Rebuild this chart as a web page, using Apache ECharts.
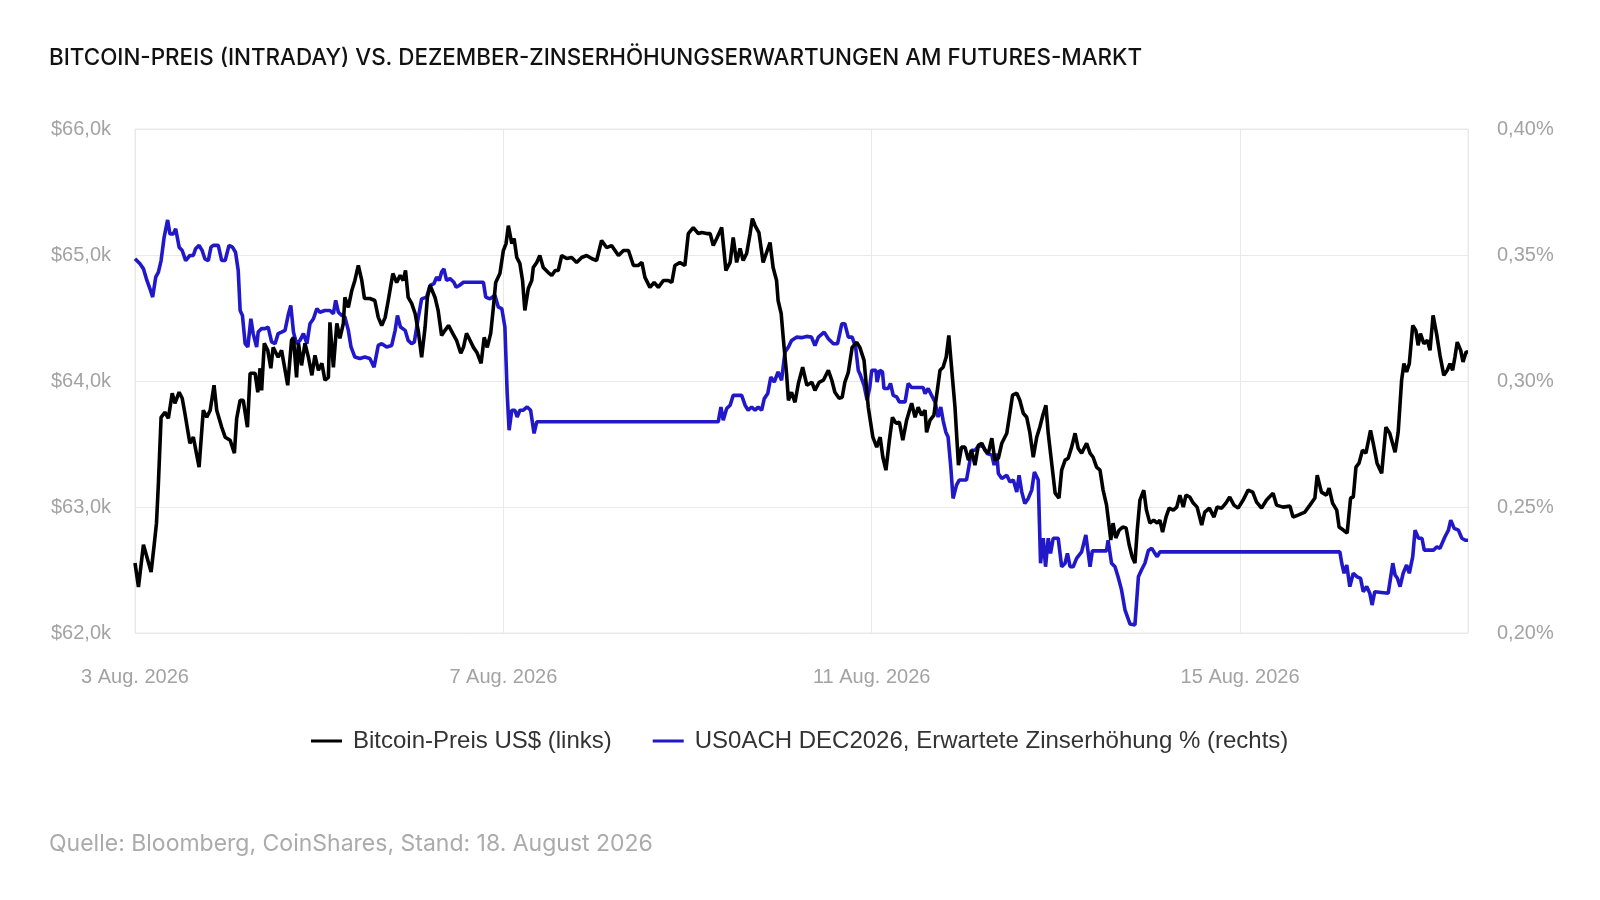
<!DOCTYPE html>
<html>
<head>
<meta charset="utf-8">
<title>Bitcoin-Preis vs. Zinserhöhungserwartungen</title>
<script src="https://cdn.jsdelivr.net/npm/echarts@6/dist/echarts.min.js"></script>
<style>
  html, body { margin: 0; padding: 0; background: #fff; }
  #chart { width: 1600px; height: 900px; }
</style>
</head>
<body>
<div id="chart"></div>
<script>
// Stunden ab 3. Aug. 2026 00:00
var btcHours = [0, 0.9, 2.2, 3.1, 4.2, 5.0, 5.6, 6.1, 6.8, 7.8, 8.7, 9.7, 10.4, 11.5, 12.3, 13.0, 14.3, 15.2, 16.7, 17.8, 18.7, 19.6, 20.6, 21.3, 22.6, 23.5, 24.8, 25.9, 26.5, 27.4, 28.2, 29.3, 30.0, 31.3, 32.0, 32.6, 33.0, 33.7, 34.6, 35.4, 36.0, 37.3, 38.2, 39.8, 40.8, 41.3, 42.1, 42.6, 43.4, 44.3, 45.2, 46.1, 46.9, 47.8, 48.7, 49.5, 50.4, 50.8, 51.7, 52.6, 53.4, 54.3, 54.7, 55.6, 56.5, 57.3, 58.2, 59.1, 59.8, 61.2, 62.5, 63.4, 64.3, 65.2, 66.0, 67.2, 68.2, 69.1, 69.9, 70.5, 71.2, 72.1, 73.0, 73.8, 74.7, 75.6, 76.2, 76.9, 78.2, 79.0, 79.9, 80.8, 81.7, 82.8, 83.8, 84.9, 85.6, 86.4, 87.3, 88.2, 89.1, 90.2, 91.0, 91.8, 92.7, 93.4, 94.0, 95.1, 96.0, 96.7, 97.3, 98.2, 98.8, 99.5, 100.3, 101.0, 101.6, 102.5, 103.4, 103.8, 104.7, 105.5, 106.4, 107.7, 108.6, 109.5, 110.3, 111.2, 112.5, 113.8, 115.1, 116.4, 117.7, 119.0, 120.3, 121.6, 122.9, 124.2, 126.0, 127.3, 128.6, 129.9, 131.2, 132.1, 132.9, 134.2, 135.3, 136.4, 137.7, 139.0, 139.9, 140.7, 142.0, 143.3, 144.2, 145.5, 146.8, 147.7, 149.0, 149.9, 150.7, 151.6, 152.9, 154.0, 155.1, 155.9, 156.8, 157.7, 158.5, 159.4, 160.3, 160.9, 161.6, 162.6, 163.7, 164.6, 165.5, 166.3, 167.2, 167.6, 168.4, 169.0, 169.8, 170.3, 171.1, 172.0, 172.9, 174.0, 175.1, 176.4, 177.2, 178.3, 179.4, 180.7, 181.6, 182.4, 183.5, 184.3, 185.0, 185.9, 186.9, 188.1, 188.9, 190.0, 191.1, 192.3, 193.3, 194.2, 194.9, 195.7, 196.6, 197.4, 198.3, 199.2, 200.1, 201.1, 202.4, 203.3, 204.1, 205.0, 205.9, 206.3, 207.2, 208.2, 209.1, 209.8, 210.6, 211.4, 212.1, 212.8, 213.7, 214.6, 215.4, 216.3, 217.2, 218.0, 218.9, 219.8, 220.7, 221.5, 222.4, 223.3, 224.1, 225.0, 225.9, 227.2, 228.0, 228.7, 229.8, 230.6, 231.5, 232.4, 233.2, 234.1, 235.0, 235.8, 236.6, 237.4, 238.0, 238.9, 239.8, 240.8, 241.5, 242.4, 243.2, 244.1, 245.0, 245.8, 246.7, 248.0, 248.9, 249.7, 250.6, 251.5, 252.3, 253.2, 253.9, 254.3, 254.9, 255.6, 256.5, 257.4, 258.3, 259.1, 259.9, 260.6, 261.2, 261.9, 262.9, 263.6, 264.5, 265.5, 266.4, 267.1, 267.8, 268.7, 269.5, 270.6, 271.5, 272.3, 273.2, 273.9, 274.9, 275.8, 276.8, 278.0, 278.8, 280.0, 281.2, 282.0, 283.2, 284.3, 285.3, 286.4, 287.5, 288.8, 290.1, 291.3, 292.3, 293.6, 294.9, 296.6, 297.5, 299.2, 301.0, 301.8, 303.1, 304.9, 306.2, 307.5, 308.1, 309.2, 310.5, 311.2, 312.1, 313.2, 313.8, 314.9, 315.9, 316.8, 317.5, 318.2, 319.0, 319.9, 320.8, 322.0, 322.7, 323.7, 324.9, 326.0, 327.0, 328.4, 329.2, 329.7, 330.1, 330.7, 331.4, 332.1, 333.0, 333.8, 334.4, 335.0, 335.9, 336.8, 337.5, 338.3, 339.2, 340.1, 341.1, 342.0, 342.7, 343.4, 344.0, 344.6, 345.5, 346.1, 346.9, 347.4];
// Bitcoin-Preis in Tsd. US$
var btcPrice = [62.555, 62.365, 62.70, 62.603, 62.484, 62.70, 62.872, 63.189, 63.712, 63.752, 63.704, 63.903, 63.823, 63.911, 63.863, 63.744, 63.506, 63.554, 63.316, 63.768, 63.712, 63.768, 63.966, 63.768, 63.633, 63.554, 63.530, 63.427, 63.704, 63.847, 63.847, 63.633, 64.061, 64.061, 63.911, 64.101, 63.926, 64.299, 64.243, 64.101, 64.267, 64.188, 64.243, 63.966, 64.323, 64.346, 64.029, 64.299, 64.124, 64.299, 64.188, 64.045, 64.204, 64.085, 64.140, 64.006, 64.029, 64.465, 64.109, 64.458, 64.338, 64.458, 64.663, 64.584, 64.719, 64.798, 64.917, 64.798, 64.655, 64.655, 64.639, 64.505, 64.441, 64.505, 64.639, 64.853, 64.782, 64.838, 64.798, 64.877, 64.663, 64.616, 64.536, 64.402, 64.188, 64.426, 64.663, 64.758, 64.663, 64.560, 64.362, 64.402, 64.441, 64.378, 64.323, 64.220, 64.267, 64.378, 64.323, 64.267, 64.227, 64.140, 64.346, 64.267, 64.378, 64.584, 64.782, 64.853, 65.035, 65.091, 65.233, 65.091, 65.131, 64.980, 64.933, 64.798, 64.560, 64.734, 64.798, 64.901, 64.941, 64.996, 64.901, 64.861, 64.838, 64.877, 64.877, 64.996, 64.972, 64.980, 64.941, 64.980, 64.996, 64.972, 64.956, 65.115, 65.059, 65.075, 64.996, 65.036, 65.036, 64.917, 64.917, 64.941, 64.822, 64.743, 64.782, 64.743, 64.798, 64.798, 64.782, 64.917, 64.941, 64.917, 65.170, 65.218, 65.170, 65.178, 65.170, 65.170, 65.075, 65.131, 65.218, 64.877, 64.941, 65.139, 64.941, 65.052, 64.956, 65.012, 65.170, 65.289, 65.234, 65.178, 64.941, 65.020, 65.099, 64.901, 64.798, 64.639, 64.536, 64.323, 64.061, 63.847, 63.911, 63.831, 63.982, 64.109, 63.966, 63.990, 63.926, 63.990, 64.006, 64.085, 64.006, 63.911, 63.863, 63.871, 63.990, 64.069, 64.267, 64.307, 64.267, 64.164, 63.792, 63.554, 63.475, 63.554, 63.395, 63.292, 63.530, 63.712, 63.665, 63.673, 63.530, 63.689, 63.823, 63.712, 63.792, 63.728, 63.768, 63.593, 63.689, 63.728, 63.926, 64.085, 64.109, 64.188, 64.362, 64.109, 63.792, 63.332, 63.475, 63.475, 63.372, 63.451, 63.332, 63.490, 63.506, 63.451, 63.427, 63.546, 63.372, 63.387, 63.506, 63.585, 63.744, 63.887, 63.903, 63.847, 63.744, 63.712, 63.593, 63.395, 63.554, 63.633, 63.728, 63.807, 63.585, 63.348, 63.110, 63.070, 63.292, 63.372, 63.387, 63.475, 63.585, 63.467, 63.427, 63.506, 63.427, 63.395, 63.316, 63.292, 63.134, 63.015, 62.841, 62.738, 62.872, 62.754, 62.817, 62.841, 62.833, 62.698, 62.603, 62.555, 62.817, 63.055, 63.134, 62.975, 62.872, 62.896, 62.872, 62.896, 62.801, 62.920, 62.991, 62.975, 62.999, 63.094, 62.999, 63.094, 63.079, 63.031, 62.999, 62.857, 62.960, 62.991, 62.920, 62.999, 62.991, 63.031, 63.079, 63.015, 62.991, 63.055, 63.134, 63.118, 63.039, 62.991, 63.055, 63.110, 63.015, 62.999, 63.007, 62.920, 62.936, 62.960, 63.015, 63.071, 63.253, 63.118, 63.094, 63.150, 63.031, 62.975, 62.841, 62.817, 62.793, 63.071, 63.079, 63.316, 63.348, 63.451, 63.427, 63.609, 63.506, 63.348, 63.268, 63.633, 63.585, 63.435, 63.593, 63.583, 64.006, 64.138, 64.071, 64.138, 64.441, 64.402, 64.283, 64.376, 64.296, 64.323, 64.243, 64.521, 64.376, 64.204, 64.045, 64.085, 64.138, 64.085, 64.190, 64.309, 64.243, 64.151, 64.230, 64.230];

var rateHours = [0, 1.3, 2.2, 3.1, 3.9, 4.6, 5.4, 6.1, 6.8, 7.6, 8.5, 9.1, 10.0, 10.6, 11.5, 12.3, 13.2, 14.3, 15.2, 15.8, 16.7, 17.5, 18.2, 19.1, 19.8, 20.4, 21.7, 22.6, 23.5, 24.5, 25.4, 26.2, 26.9, 27.4, 28.0, 28.7, 29.4, 30.2, 30.8, 31.7, 32.1, 33.0, 33.9, 34.7, 35.6, 36.5, 37.3, 38.2, 39.1, 40.0, 40.6, 41.3, 42.1, 43.0, 43.9, 44.8, 45.6, 46.5, 47.4, 48.2, 49.5, 50.8, 51.7, 52.3, 53.0, 53.9, 54.7, 55.6, 56.3, 57.3, 58.6, 59.9, 61.2, 62.3, 63.4, 64.3, 65.6, 66.9, 67.8, 68.4, 69.2, 70.4, 71.2, 72.1, 72.8, 73.7, 74.7, 76.0, 76.9, 77.9, 78.6, 79.3, 79.9, 80.5, 81.2, 82.1, 83.1, 83.7, 84.5, 85.6, 90.8, 91.4, 92.5, 93.8, 94.7, 95.6, 96.4, 97.0, 97.5, 98.2, 99.0, 99.6, 100.3, 101.2, 102.2, 103.1, 104.0, 104.7, 152.0, 152.7, 153.3, 154.2, 155.1, 155.9, 158.1, 159.0, 159.8, 160.7, 161.6, 162.4, 163.3, 164.0, 164.9, 165.7, 166.6, 167.6, 168.5, 169.4, 170.3, 171.1, 172.4, 173.7, 175.0, 176.3, 177.2, 178.1, 179.6, 180.7, 182.0, 183.1, 184.2, 185.0, 185.9, 186.9, 187.8, 188.5, 188.9, 190.0, 190.8, 191.5, 192.0, 193.1, 193.4, 194.1, 194.8, 195.2, 196.3, 196.9, 197.6, 198.5, 199.2, 200.7, 201.5, 202.4, 205.4, 205.9, 206.7, 207.6, 208.5, 209.3, 210.0, 210.6, 211.3, 211.9, 212.6, 213.2, 214.1, 214.8, 216.7, 217.4, 218.0, 218.9, 220.0, 221.1, 222.1, 223.3, 223.9, 224.6, 225.0, 225.9, 227.2, 228.0, 228.9, 229.8, 230.4, 231.1, 231.9, 232.8, 233.7, 234.4, 235.4, 236.0, 236.7, 237.3, 238.0, 238.6, 239.3, 240.6, 241.5, 242.4, 243.0, 243.7, 244.5, 245.4, 246.7, 247.8, 248.9, 249.5, 253.2, 253.6, 254.5, 255.4, 256.2, 257.1, 258.0, 259.3, 260.6, 261.5, 262.3, 263.2, 264.1, 265.0, 265.8, 266.4, 267.1, 314.0, 314.5, 315.1, 315.8, 316.6, 317.5, 318.5, 319.4, 320.1, 321.0, 321.8, 322.4, 323.1, 326.6, 327.0, 327.8, 328.4, 329.0, 329.7, 330.5, 331.4, 332.1, 333.0, 333.6, 334.5, 335.4, 336.0, 338.4, 339.3, 340.1, 341.4, 342.3, 342.9, 343.8, 344.9, 345.8, 346.7, 347.4];
// erwartete Zinserhöhung in %
var rateValues = [0.3485, 0.3465, 0.3445, 0.3399, 0.3366, 0.3333, 0.3412, 0.3432, 0.3478, 0.3571, 0.3639, 0.3584, 0.3584, 0.3604, 0.3531, 0.3518, 0.3478, 0.3498, 0.3498, 0.3525, 0.3538, 0.3518, 0.3485, 0.3478, 0.3531, 0.3538, 0.3538, 0.3478, 0.3478, 0.3538, 0.3531, 0.3511, 0.3439, 0.3280, 0.3260, 0.3148, 0.3135, 0.3247, 0.3188, 0.3135, 0.3194, 0.3208, 0.3208, 0.3214, 0.3155, 0.3148, 0.3188, 0.3194, 0.3201, 0.3267, 0.3300, 0.3194, 0.3148, 0.3161, 0.3188, 0.3148, 0.3227, 0.3247, 0.3287, 0.3273, 0.3280, 0.3280, 0.3267, 0.3320, 0.3273, 0.3260, 0.3254, 0.3201, 0.3135, 0.3095, 0.3089, 0.3095, 0.3089, 0.3055, 0.3141, 0.3148, 0.3135, 0.3141, 0.3201, 0.3260, 0.3214, 0.3201, 0.3161, 0.3148, 0.3155, 0.3240, 0.3326, 0.3333, 0.3379, 0.3386, 0.3412, 0.3399, 0.3432, 0.3445, 0.3399, 0.3406, 0.3392, 0.3372, 0.3379, 0.3392, 0.3392, 0.3333, 0.3326, 0.3340, 0.3293, 0.3287, 0.3214, 0.2950, 0.2805, 0.2884, 0.2884, 0.2857, 0.2884, 0.2884, 0.2897, 0.2884, 0.2792, 0.2838, 0.2838, 0.2897, 0.2844, 0.2891, 0.2904, 0.2943, 0.2943, 0.2904, 0.2884, 0.2897, 0.2884, 0.2897, 0.2884, 0.2930, 0.2950, 0.3016, 0.2996, 0.3036, 0.3003, 0.3115, 0.3135, 0.3161, 0.3174, 0.3172, 0.3177, 0.3174, 0.3141, 0.3174, 0.3194, 0.3168, 0.3148, 0.3148, 0.3227, 0.3227, 0.3174, 0.3174, 0.3135, 0.3042, 0.3029, 0.2983, 0.2924, 0.2976, 0.3042, 0.3042, 0.2996, 0.3042, 0.3036, 0.2970, 0.2970, 0.2990, 0.2943, 0.2937, 0.2917, 0.2917, 0.2990, 0.2974, 0.2974, 0.2950, 0.2970, 0.2943, 0.2917, 0.2857, 0.2897, 0.2844, 0.2798, 0.2778, 0.2659, 0.2534, 0.2587, 0.2607, 0.2607, 0.2666, 0.2725, 0.2725, 0.2745, 0.2739, 0.2712, 0.2706, 0.2666, 0.2712, 0.2633, 0.2613, 0.2626, 0.2600, 0.2607, 0.2560, 0.2626, 0.2560, 0.2514, 0.2534, 0.2567, 0.2639, 0.2607, 0.2277, 0.2376, 0.2263, 0.2376, 0.2316, 0.2376, 0.2376, 0.2263, 0.2277, 0.2316, 0.2263, 0.2263, 0.2296, 0.2322, 0.2389, 0.2263, 0.2326, 0.2326, 0.2368, 0.2277, 0.2263, 0.2223, 0.2171, 0.2092, 0.2036, 0.2032, 0.2223, 0.2250, 0.2277, 0.2327, 0.2336, 0.2316, 0.2303, 0.2322, 0.2322, 0.2277, 0.2237, 0.2270, 0.2184, 0.2237, 0.2223, 0.2217, 0.2164, 0.2184, 0.2158, 0.2111, 0.2164, 0.2158, 0.2197, 0.2277, 0.2230, 0.2217, 0.2184, 0.2237, 0.2270, 0.2237, 0.2303, 0.2408, 0.2376, 0.2376, 0.2329, 0.2329, 0.2342, 0.2336, 0.2382, 0.2408, 0.2448, 0.2415, 0.2408, 0.2376, 0.2368, 0.2368];

var seriesNames = ["Bitcoin-Preis US$ (links)", "US0ACH DEC2026, Erwartete Zinserhöhung % (rechts)"];
var startDay = 3; // 3. Aug. 2026
var endHour = 347.4;

var chart = echarts.init(document.getElementById("chart"));

var btcData = btcHours.map(function (h, i) { return [h, btcPrice[i]]; });
var rateData = rateHours.map(function (h, i) { return [h, rateValues[i]]; });

var labelStyle = { color: "#a3a3a3", fontSize: 20, fontFamily: "Liberation Sans" };
var lineColor = "#e9e9e9";
var blue = "#2118c9";

var option = {
  animation: false,
  backgroundColor: "#fff",
  title: [
    {
      text: "BITCOIN-PREIS (INTRADAY) VS. DEZEMBER-ZINSERHÖHUNGSERWARTUNGEN AM FUTURES-MARKT",
      left: 49,
      top: 47,
      padding: 0,
      textStyle: { fontFamily: "Inter", fontSize: 22.4, fontWeight: 500, color: "#111" }
    },
    {
      text: "Quelle: Bloomberg, CoinShares, Stand: 18. August 2026",
      left: 49,
      top: 833,
      padding: 0,
      textStyle: { fontFamily: "Inter", fontSize: 23, fontWeight: 400, color: "#ababab" }
    }
  ],
  legend: {
    data: seriesNames,
    left: 306,
    top: 724,
    icon: "rect",
    itemWidth: 31,
    itemHeight: 3,
    itemGap: 41,
    textStyle: { fontFamily: "Liberation Sans", fontSize: 24, color: "#333", padding: [0, 0, 0, 6] }
  },
  grid: {
    left: 135,
    right: 132,
    top: 129,
    bottom: 267,
    show: true,
    borderColor: lineColor,
    borderWidth: 1
  },
  xAxis: {
    type: "value",
    min: 0,
    max: endHour,
    interval: 96,
    axisLine: { show: false },
    axisTick: { show: false },
    splitLine: { show: true, lineStyle: { color: lineColor, width: 1 } },
    axisLabel: Object.assign({}, labelStyle, {
      margin: 34,
      showMaxLabel: false,
      formatter: function (v) {
        if (v % 96 !== 0) return "";
        return (startDay + v / 24) + " Aug. 2026";
      }
    })
  },
  yAxis: [
    {
      type: "value",
      min: 62,
      max: 66,
      interval: 1,
      axisLine: { show: false },
      axisTick: { show: false },
      splitLine: { show: true, lineStyle: { color: lineColor, width: 1 } },
      axisLabel: Object.assign({}, labelStyle, {
        margin: 24,
        formatter: function (v) { return "$" + v.toFixed(1).replace(".", ",") + "k"; }
      })
    },
    {
      type: "value",
      min: 0.2,
      max: 0.4,
      interval: 0.05,
      axisLine: { show: false },
      axisTick: { show: false },
      splitLine: { show: false },
      axisLabel: Object.assign({}, labelStyle, {
        margin: 29,
        formatter: function (v) { return v.toFixed(2).replace(".", ",") + "%"; }
      })
    }
  ],
  series: [
    {
      name: seriesNames[0],
      type: "line",
      yAxisIndex: 0,
      data: btcData,
      showSymbol: false,
      symbol: "none",
      z: 3,
      lineStyle: { color: "#000", width: 3.6 },
      itemStyle: { color: "#000" }
    },
    {
      name: seriesNames[1],
      type: "line",
      yAxisIndex: 1,
      data: rateData,
      showSymbol: false,
      symbol: "none",
      z: 2,
      lineStyle: { color: blue, width: 3.6 },
      itemStyle: { color: blue }
    }
  ]
};

chart.setOption(option);
</script>
</body>
</html>
